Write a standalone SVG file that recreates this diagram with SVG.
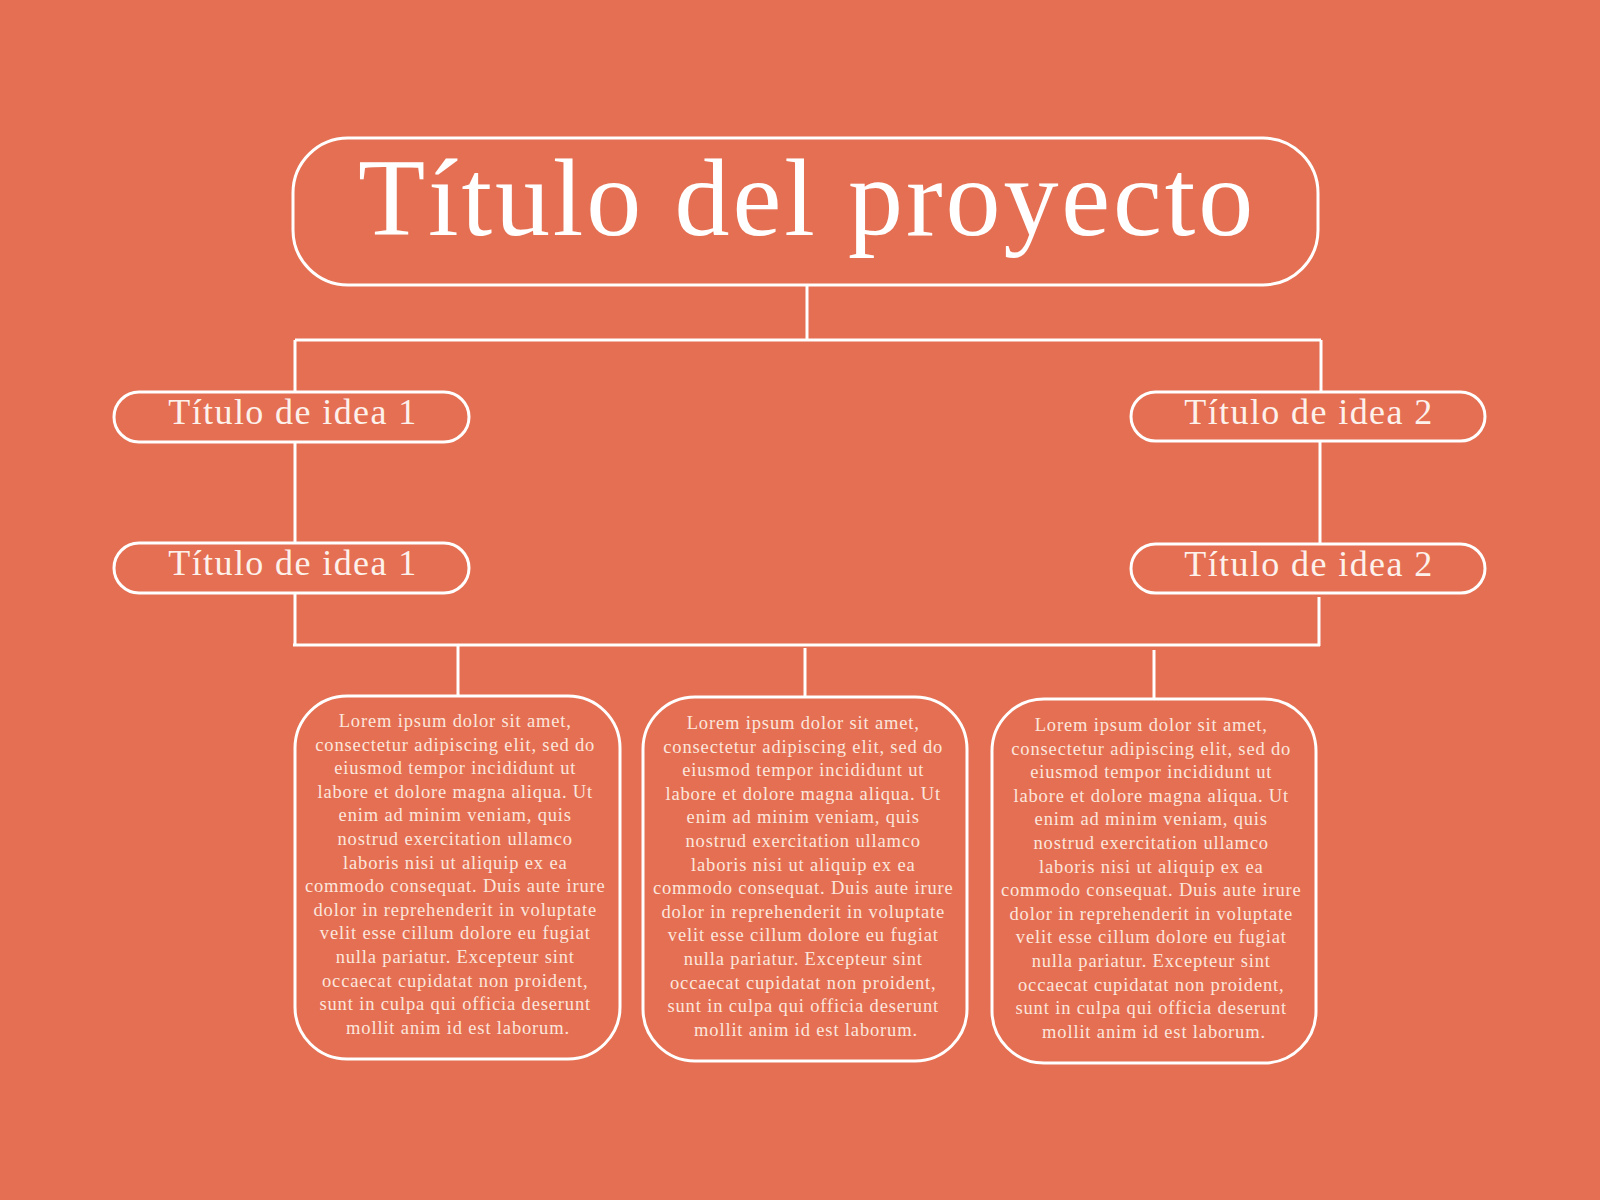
<svg xmlns="http://www.w3.org/2000/svg" width="1600" height="1200" viewBox="0 0 1600 1200">
<style>
.box{fill:none;stroke:#ffffff;stroke-width:3}
.ln{fill:none;stroke:#ffffff;stroke-width:3}
.title{font-family:"Liberation Serif","Times New Roman",serif;font-size:110px;fill:#ffffff;text-anchor:middle;letter-spacing:2.9px}
.idea{font-family:"Liberation Serif","Times New Roman",serif;font-size:36px;fill:#fdf1ec;text-anchor:middle;letter-spacing:1.4px}
.body{font-family:"Liberation Serif","Times New Roman",serif;font-size:18.5px;fill:#fbe6dd;text-anchor:middle;letter-spacing:0.85px}
</style>
<rect x="0" y="0" width="1600" height="1200" fill="#E56F52"/>
<g id="connectors">
<path class="ln" d="M807 285 V340"/>
<path class="ln" d="M295 340 H1321"/>
<path class="ln" d="M295 340 V392"/>
<path class="ln" d="M295 442 V543"/>
<path class="ln" d="M295 593 V645"/>
<path class="ln" d="M1321 340 V392"/>
<path class="ln" d="M1320 441 V544"/>
<path class="ln" d="M1319 597 V646"/>
<path class="ln" d="M293 645 H1320"/>
<path class="ln" d="M458 645 V696"/>
<path class="ln" d="M805 648 V697"/>
<path class="ln" d="M1154 650 V699"/>
</g>
<g id="title">
<rect class="box" x="293" y="138" width="1025" height="147" rx="55"/>
<text class="title" x="807" y="235">Título del proyecto</text>
</g>
<g id="idea1a">
<rect class="box" x="114" y="392" width="355" height="50" rx="25"/>
<text class="idea" x="293" y="424">Título de idea 1</text>
</g>
<g id="idea1b">
<rect class="box" x="114" y="543" width="355" height="50" rx="25"/>
<text class="idea" x="293" y="575">Título de idea 1</text>
</g>
<g id="idea2a">
<rect class="box" x="1131" y="392" width="354" height="49" rx="24.5"/>
<text class="idea" x="1309" y="424">Título de idea 2</text>
</g>
<g id="idea2b">
<rect class="box" x="1131" y="544" width="354" height="49" rx="24.5"/>
<text class="idea" x="1309" y="576">Título de idea 2</text>
</g>
<g id="text1">
<rect class="box" x="295" y="696" width="325" height="363" rx="52"/>
<text class="body" x="458" y="727">
<tspan x="458" dy="0">Lorem ipsum dolor sit amet,</tspan>
<tspan x="458" dy="23.6">consectetur adipiscing elit, sed do</tspan>
<tspan x="458" dy="23.6">eiusmod tempor incididunt ut</tspan>
<tspan x="458" dy="23.6">labore et dolore magna aliqua. Ut</tspan>
<tspan x="458" dy="23.6">enim ad minim veniam, quis</tspan>
<tspan x="458" dy="23.6">nostrud exercitation ullamco</tspan>
<tspan x="458" dy="23.6">laboris nisi ut aliquip ex ea</tspan>
<tspan x="458" dy="23.6">commodo consequat. Duis aute irure</tspan>
<tspan x="458" dy="23.6">dolor in reprehenderit in voluptate</tspan>
<tspan x="458" dy="23.6">velit esse cillum dolore eu fugiat</tspan>
<tspan x="458" dy="23.6">nulla pariatur. Excepteur sint</tspan>
<tspan x="458" dy="23.6">occaecat cupidatat non proident,</tspan>
<tspan x="458" dy="23.6">sunt in culpa qui officia deserunt</tspan>
<tspan x="458" dy="23.6">mollit anim id est laborum.</tspan>
</text>
</g>
<g id="text2">
<rect class="box" x="643" y="697" width="324" height="364" rx="52"/>
<text class="body" x="806" y="729">
<tspan x="806" dy="0">Lorem ipsum dolor sit amet,</tspan>
<tspan x="806" dy="23.6">consectetur adipiscing elit, sed do</tspan>
<tspan x="806" dy="23.6">eiusmod tempor incididunt ut</tspan>
<tspan x="806" dy="23.6">labore et dolore magna aliqua. Ut</tspan>
<tspan x="806" dy="23.6">enim ad minim veniam, quis</tspan>
<tspan x="806" dy="23.6">nostrud exercitation ullamco</tspan>
<tspan x="806" dy="23.6">laboris nisi ut aliquip ex ea</tspan>
<tspan x="806" dy="23.6">commodo consequat. Duis aute irure</tspan>
<tspan x="806" dy="23.6">dolor in reprehenderit in voluptate</tspan>
<tspan x="806" dy="23.6">velit esse cillum dolore eu fugiat</tspan>
<tspan x="806" dy="23.6">nulla pariatur. Excepteur sint</tspan>
<tspan x="806" dy="23.6">occaecat cupidatat non proident,</tspan>
<tspan x="806" dy="23.6">sunt in culpa qui officia deserunt</tspan>
<tspan x="806" dy="23.6">mollit anim id est laborum.</tspan>
</text>
</g>
<g id="text3">
<rect class="box" x="992" y="699" width="324" height="364" rx="52"/>
<text class="body" x="1154" y="731">
<tspan x="1154" dy="0">Lorem ipsum dolor sit amet,</tspan>
<tspan x="1154" dy="23.6">consectetur adipiscing elit, sed do</tspan>
<tspan x="1154" dy="23.6">eiusmod tempor incididunt ut</tspan>
<tspan x="1154" dy="23.6">labore et dolore magna aliqua. Ut</tspan>
<tspan x="1154" dy="23.6">enim ad minim veniam, quis</tspan>
<tspan x="1154" dy="23.6">nostrud exercitation ullamco</tspan>
<tspan x="1154" dy="23.6">laboris nisi ut aliquip ex ea</tspan>
<tspan x="1154" dy="23.6">commodo consequat. Duis aute irure</tspan>
<tspan x="1154" dy="23.6">dolor in reprehenderit in voluptate</tspan>
<tspan x="1154" dy="23.6">velit esse cillum dolore eu fugiat</tspan>
<tspan x="1154" dy="23.6">nulla pariatur. Excepteur sint</tspan>
<tspan x="1154" dy="23.6">occaecat cupidatat non proident,</tspan>
<tspan x="1154" dy="23.6">sunt in culpa qui officia deserunt</tspan>
<tspan x="1154" dy="23.6">mollit anim id est laborum.</tspan>
</text>
</g>
</svg>
